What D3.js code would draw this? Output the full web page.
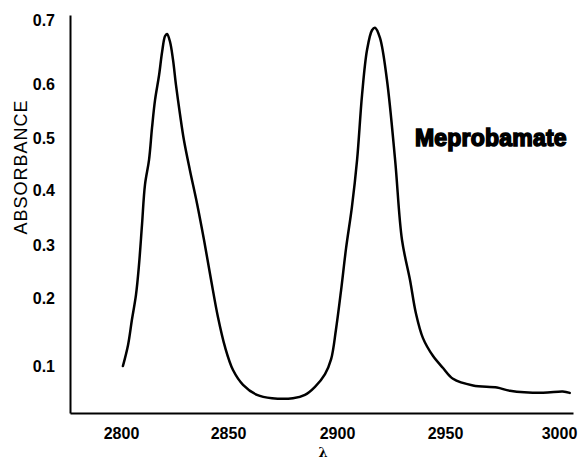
<!DOCTYPE html>
<html lang="en">
<head>
<meta charset="UTF-8">
<script src="https://cdn.jsdelivr.net/npm/d3@7"></script>
<title>Meprobamate</title>
<style>
    body { margin: 0; background: #fff; }
    text { fill: #000; }
</style>
</head>
<body>
<div id="chart"></div>
<script>
    // wavelength (cm-1) and absorbance
    const wavelength = [2800.9, 2803.3, 2805.1, 2807.0, 2808.4, 2809.8, 2811.2, 2813.1, 2814.5, 2815.9,
        2817.8, 2819.2, 2820.6, 2821.5, 2822.9, 2824.3, 2825.7, 2827.6, 2829.4, 2832.2,
        2835.5, 2838.8, 2842.1, 2845.3, 2848.6, 2852.3, 2856.9, 2863.3, 2870.2, 2879.8,
        2885.3, 2889.9, 2894.5, 2897.3, 2899.5, 2901.9, 2904.2, 2906.9, 2909.3, 2911.6,
        2913.9, 2916.2, 2917.6, 2919.9, 2923.1, 2926.9, 2930.1, 2933.8, 2936.5, 2939.8,
        2944.4, 2949.1, 2953.5, 2962.3, 2972.8, 2978.5, 2993.0, 3001.6, 3004.6]
    const absorbance = [0.100, 0.131, 0.168, 0.206, 0.262, 0.336, 0.410, 0.458, 0.519, 0.570,
        0.614, 0.650, 0.675, 0.678, 0.666, 0.638, 0.598, 0.543, 0.496, 0.438,
        0.376, 0.309, 0.234, 0.172, 0.128, 0.094, 0.072, 0.057, 0.052, 0.052,
        0.057, 0.069, 0.088, 0.110, 0.153, 0.215, 0.294, 0.369, 0.458, 0.580,
        0.653, 0.684, 0.688, 0.672, 0.607, 0.458, 0.309, 0.234, 0.178, 0.141,
        0.115, 0.097, 0.081, 0.071, 0.068, 0.063, 0.060, 0.062, 0.060]
    const xTicks = [2800, 2850, 2900, 2950, 3000]
    const yTicks = [0.1, 0.2, 0.3, 0.4, 0.5, 0.6, 0.7]
    const seriesName = "Meprobamate"

    const width = 581, height = 461

    const svg = d3.select("#chart").append("svg")
        .attr("width", width)
        .attr("height", height)

    // the printed axes are not evenly spaced, so the scales are piecewise
    const x = d3.scaleLinear()
        .domain([2776, 2800, 2850, 2900, 2950, 3000, 3006])
        .range([70, 121, 228, 337, 445, 559, 573])
    const y = d3.scaleLinear()
        .domain([0.03, 0.1, 0.2, 0.3, 0.4, 0.5, 0.6, 0.7, 0.708])
        .range([413, 366, 298, 245, 190, 138, 84, 20, 15])

    svg.append("g")
        .attr("transform", "translate(0,413)")
        .call(d3.axisBottom(x).tickValues(xTicks).tickFormat(d3.format("d"))
            .tickSize(0).tickPadding(15))
    svg.append("g")
        .attr("transform", "translate(70,0)")
        .call(d3.axisLeft(y).tickValues(yTicks).tickFormat(d3.format(".1f"))
            .tickSize(0).tickPadding(15))

    svg.selectAll(".domain").attr("stroke", "#000").attr("stroke-width", 2)
    svg.selectAll(".tick text")
        .attr("font-family", "Liberation Sans, Arial, sans-serif")
        .attr("font-size", 16)
        .attr("font-weight", "bold")
        .attr("fill", "#000")

    const pts = wavelength.map((w, i) => [w, absorbance[i]])
    const line = d3.line()
        .x(d => x(d[0]))
        .y(d => y(d[1]))
        .curve(d3.curveCatmullRom.alpha(0.5))

    svg.append("path")
        .datum(pts)
        .attr("fill", "none")
        .attr("stroke", "#000")
        .attr("stroke-width", 2.5)
        .attr("stroke-linejoin", "round")
        .attr("stroke-linecap", "round")
        .attr("d", line)

    // axis titles
    svg.append("text")
        .attr("transform", "translate(27,167) rotate(-90)")
        .attr("text-anchor", "middle")
        .attr("font-family", "Liberation Sans, Arial, sans-serif")
        .attr("font-size", 18)
        .attr("letter-spacing", 1)
        .text("ABSORBANCE")

    svg.append("text")
        .attr("x", 323)
        .attr("y", 457)
        .attr("text-anchor", "middle")
        .attr("font-family", "DejaVu Serif, serif")
        .attr("font-size", 13)
        .attr("font-weight", "bold")
        .text("λ")

    svg.append("text")
        .attr("x", 415)
        .attr("y", 146)
        .attr("font-family", "Liberation Sans, Arial, sans-serif")
        .attr("font-size", 23)
        .attr("font-weight", "bold")
        .attr("stroke", "#000")
        .attr("stroke-width", 1.5)
        .attr("letter-spacing", 0.2)
        .text(seriesName)
</script>
</body>
</html>
